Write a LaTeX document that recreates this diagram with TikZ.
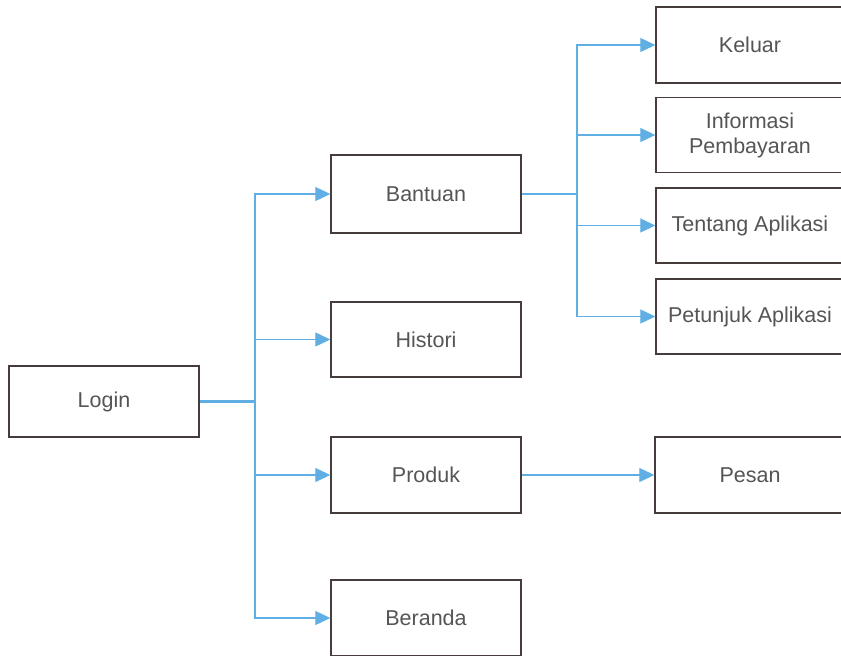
\documentclass[tikz,border=0pt]{standalone}
\usepackage{fontspec}
\setmainfont{Liberation Sans}
\usetikzlibrary{arrows.meta}
\definecolor{linkblue}{RGB}{95,175,228}
\definecolor{boxline}{RGB}{70,60,60}
\definecolor{labelgray}{RGB}{85,85,85}
\tikzset{
  menubox/.style={draw=boxline, line width=1.4pt, minimum width=190pt,
    minimum height=76pt, inner sep=0pt, text=labelgray, align=center,
    font=\fontsize{21.5}{25}\selectfont},
  trunkline/.style={draw=linkblue, line width=2.2pt},
  branch/.style={draw=linkblue, line width=1.1pt,
    -{Triangle[length=15pt,width=14pt]}},
}
\begin{document}
\begin{tikzpicture}[x=1pt,y=-1pt]
  \useasboundingbox (0,0) rectangle (841,656);
  \clip (0,0) rectangle (841,656);
  \fill[white] (0,0) rectangle (841,656);

  % root
  \node[menubox, minimum height=71pt] (login) at (104,401.5) {Login};

  % second level
  \node[menubox, minimum height=78pt] (bantuan) at (426,194) {Bantuan};
  \node[menubox, minimum height=75pt] (histori) at (426,339.5) {Histori};
  \node[menubox] (produk) at (426,475) {Produk};
  \node[menubox] (beranda) at (426,618) {Beranda};

  % third level
  \node[menubox, minimum width=188pt] (keluar) at (750,45) {Keluar};
  \node[menubox, minimum width=188pt, minimum height=75pt] (info) at (750,135) {Informasi\\Pembayaran};
  \node[menubox, minimum width=188pt, minimum height=75pt] (tentang) at (750,225.5) {Tentang Aplikasi};
  \node[menubox, minimum width=188pt, minimum height=75pt] (petunjuk) at (750,316.5) {Petunjuk Aplikasi};
  \node[menubox] (pesan) at (750,475) {Pesan};

  % junctions
  \coordinate (j1) at (255,401.5);
  \coordinate (j2) at (577,194);

  % connectors from Login
  \draw[trunkline] (login.east) -- (j1);
  \draw[branch] (j1) |- (bantuan.west);
  \draw[branch] (j1) |- (histori.west);
  \draw[branch] (j1) |- (produk.west);
  \draw[branch] (j1) |- (beranda.west);

  % connectors from Bantuan
  \draw[trunkline] (bantuan.east) -- (j2);
  \draw[branch] (j2) |- (keluar.west);
  \draw[branch] (j2) |- (info.west);
  \draw[branch] (j2) |- (tentang.west);
  \draw[branch] (j2) |- (petunjuk.west);

  % connector from Produk
  \draw[branch] (produk.east) -- (pesan.west);
\end{tikzpicture}
\end{document}
